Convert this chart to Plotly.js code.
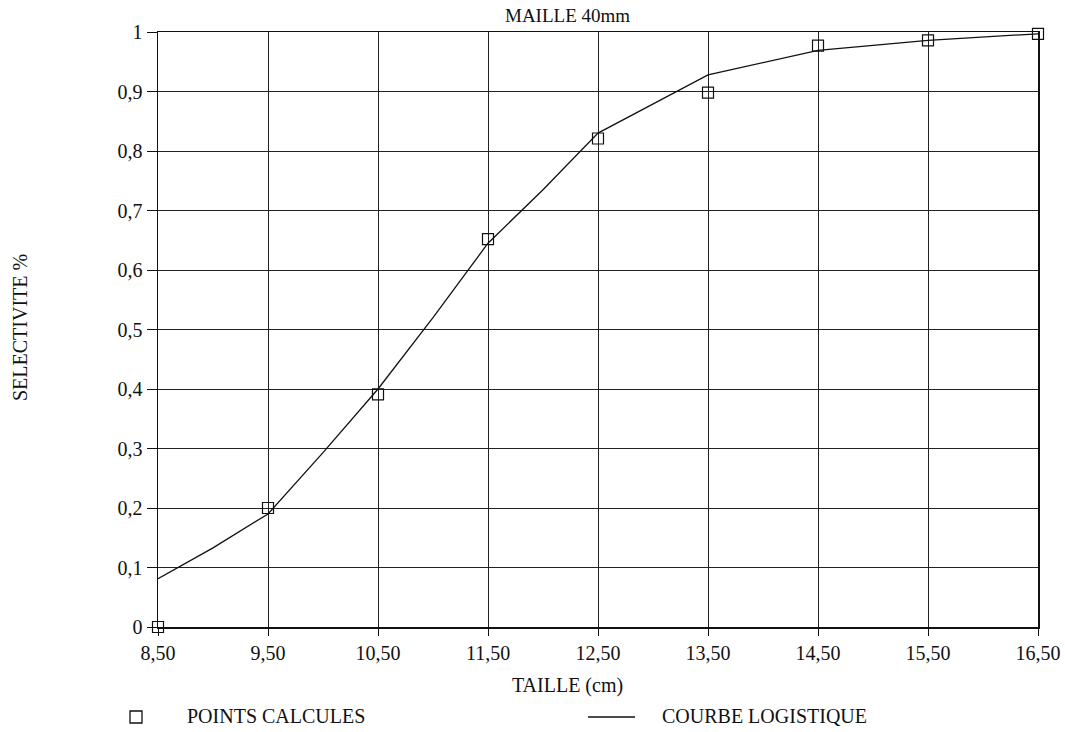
<!DOCTYPE html>
<html>
<head>
<meta charset="utf-8">
<script src="https://cdn.plot.ly/plotly-3.0.1.min.js"></script>
<style>html,body{margin:0;padding:0;background:#fff;}#chart{width:1065px;height:732px;}</style>
</head>
<body>
<div id="chart"></div>
<script>
// Calculated points
const pointsX = [8.5, 9.5, 10.5, 11.5, 12.5, 13.5, 14.5, 15.5, 16.5];
const pointsY = [0, 0.2, 0.391, 0.652, 0.821, 0.898, 0.977, 0.986, 0.997];
// Logistic curve
const curveX = [8.5, 9.0, 9.5, 10.0, 10.5, 11.0, 11.5, 12.0, 12.5, 13.5, 14.5, 15.5, 16.5];
const curveY = [0.081, 0.133, 0.19, 0.293, 0.40, 0.52, 0.645, 0.735, 0.83, 0.928, 0.969, 0.986, 0.997];
const xTicks = [8.5, 9.5, 10.5, 11.5, 12.5, 13.5, 14.5, 15.5, 16.5];
const yTicks = [0, 0.1, 0.2, 0.3, 0.4, 0.5, 0.6, 0.7, 0.8, 0.9, 1];
const labels = {title: "MAILLE 40mm", xTitle: "TAILLE (cm)", yTitle: "SELECTIVITE %",
  legPoints: "POINTS CALCULES", legCurve: "COURBE LOGISTIQUE"};

const serif = "Liberation Serif, Times New Roman, serif";
const W = 880, H = 595, L = 158, T = 32;
const px = v => (v - L) / W;          // pixel x -> paper x
const py = v => (T + H - v) / H;      // pixel y -> paper y

const traces = [
  {x: curveX, y: curveY, mode: "lines", name: labels.legCurve,
   line: {color: "#111", width: 1.3}, showlegend: false, cliponaxis: false},
  {x: pointsX, y: pointsY, mode: "markers", name: labels.legPoints,
   marker: {symbol: "square-open", size: 11, color: "#111", line: {width: 1.2, color: "#111"}},
   showlegend: false, cliponaxis: false}
];

const txt = (text, x, y, size, extra) => Object.assign({
  text, xref: "paper", yref: "paper", x, y, showarrow: false,
  font: {family: serif, size, color: "#111"}}, extra || {});

const layout = {
  width: 1065, height: 732,
  margin: {l: 158, r: 27, t: 32, b: 105},
  paper_bgcolor: "#fff", plot_bgcolor: "#fff",
  separators: ", ",
  font: {family: serif, color: "#111", size: 20},
  xaxis: {
    range: [8.5, 16.5], tickvals: xTicks, tickformat: ".2f",
    showgrid: true, gridcolor: "#222", gridwidth: 1,
    showline: true, linecolor: "#111", linewidth: 1.5, mirror: true,
    ticks: "outside", ticklen: 7, tickcolor: "#111", tickwidth: 1,
    zeroline: false, fixedrange: true,
    tickfont: {family: serif, size: 20, color: "#111"}
  },
  yaxis: {
    range: [0, 1], tickvals: yTicks,
    showgrid: true, gridcolor: "#222", gridwidth: 1,
    showline: true, linecolor: "#111", linewidth: 1.5, mirror: true,
    ticks: "outside", ticklen: 10, tickcolor: "#111", tickwidth: 1,
    zeroline: false, fixedrange: true,
    tickfont: {family: serif, size: 20, color: "#111"}
  },
  shapes: [
    {type: "rect", xref: "paper", yref: "paper",
     x0: px(130), x1: px(142), y0: py(723), y1: py(711),
     line: {color: "#111", width: 1.3}},
    {type: "line", xref: "paper", yref: "paper",
     x0: px(588), x1: px(635), y0: py(717), y1: py(717),
     line: {color: "#111", width: 1.3}}
  ],
  annotations: [
    txt(labels.title, px(567), py(15), 19, {xanchor: "center", yanchor: "middle"}),
    txt(labels.xTitle, px(567), py(685), 20, {xanchor: "center", yanchor: "middle"}),
    txt(labels.yTitle, px(20), py(328), 20, {xanchor: "center", yanchor: "middle", textangle: -90}),
    txt(labels.legPoints, px(185), py(716), 20, {xanchor: "left", yanchor: "middle"}),
    txt(labels.legCurve, px(660), py(716), 20, {xanchor: "left", yanchor: "middle"})
  ],
  showlegend: false
};

Plotly.newPlot("chart", traces, layout, {displayModeBar: false, staticPlot: true});
</script>
</body>
</html>
